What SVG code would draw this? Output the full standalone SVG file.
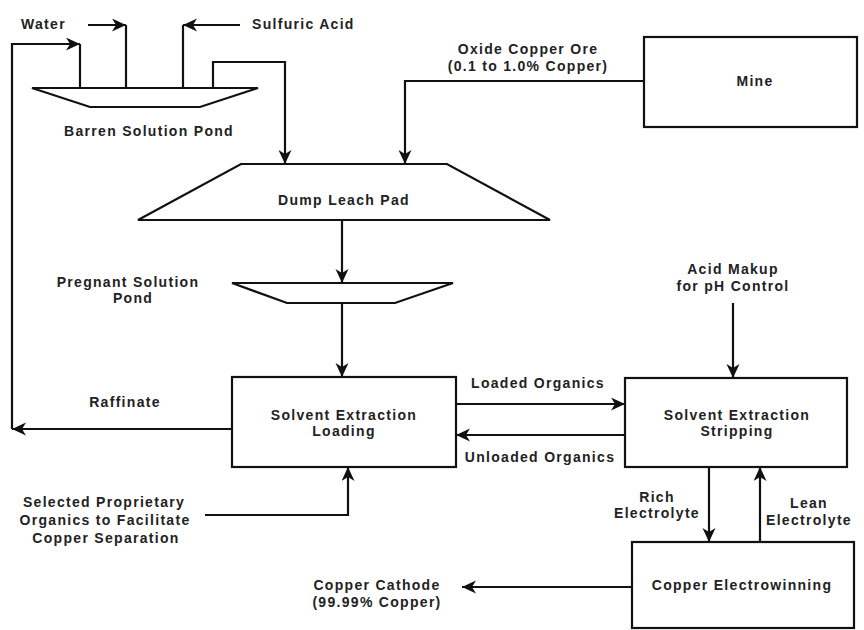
<svg xmlns="http://www.w3.org/2000/svg" width="864" height="630" viewBox="0 0 864 630">
<style>
.bg{fill:#ffffff}
.shape{fill:#ffffff;stroke:#111;stroke-width:2.2}
.conn{fill:none;stroke:#111;stroke-width:2.2}
.arr{fill:none;stroke:#111;stroke-width:2.2;marker-end:url(#ah)}
text{font-family:"Liberation Sans",Arial,Helvetica,sans-serif;font-weight:bold;font-size:14px;letter-spacing:1.3px;fill:#222}
.c{text-anchor:middle}
</style>
<defs>
<marker id="ah" markerUnits="userSpaceOnUse" markerWidth="16" markerHeight="14" refX="14" refY="6.5" orient="auto">
<path d="M0,0 L14,6.5 L0,13 L4,6.5 Z" fill="#111"/>
</marker>
</defs>
<rect class="bg" width="864" height="630"/>

<g id="connectors">
<path class="arr" d="M88,25 H126"/>
<path class="conn" d="M126,25 V88"/>
<path class="arr" d="M240,25 H183"/>
<path class="conn" d="M183,25 V88"/>
<path class="arr" d="M12,429 V44 H80"/>
<path class="conn" d="M80,44 V88"/>
<path class="arr" d="M213,88 V62 H285 V164"/>
<path class="arr" d="M644,81 H405 V164"/>
<path class="arr" d="M342,220 V283"/>
<path class="arr" d="M342,303 V377"/>
<path class="arr" d="M232,429 H12"/>
<path class="arr" d="M205,515 H348 V467"/>
<path class="arr" d="M456,404 H625"/>
<path class="arr" d="M625,435 H456"/>
<path class="arr" d="M733,303 V378"/>
<path class="arr" d="M709,467 V542"/>
<path class="arr" d="M760,542 V467"/>
<path class="arr" d="M632,587 H462"/>
</g>

<g id="labels">
<text x="21" y="29">Water</text>
<text x="252" y="29">Sulfuric Acid</text>
<text class="c" x="528" y="54">Oxide Copper Ore</text>
<text class="c" x="528" y="71">(0.1 to 1.0% Copper)</text>
<text class="c" x="128" y="287">Pregnant Solution</text>
<text class="c" x="133" y="303">Pond</text>
<text class="c" x="125" y="407">Raffinate</text>
<text class="c" x="733" y="274">Acid Makup</text>
<text class="c" x="733" y="291">for pH Control</text>
<text class="c" x="538" y="388">Loaded Organics</text>
<text class="c" x="540" y="462">Unloaded Organics</text>
<text class="c" x="657" y="502">Rich</text>
<text class="c" x="657" y="518">Electrolyte</text>
<text class="c" x="809" y="508">Lean</text>
<text class="c" x="809" y="525">Electrolyte</text>
<text class="c" x="104" y="507">Selected Proprietary</text>
<text class="c" x="105" y="525">Organics to Facilitate</text>
<text class="c" x="106" y="543">Copper Separation</text>
<text class="c" x="377" y="590">Copper Cathode</text>
<text class="c" x="377" y="607">(99.99% Copper)</text>
</g>

<g id="barren-pond">
<polygon class="shape" points="32,88 258,88 200,107 90,107"/>
<text class="c" x="149" y="136">Barren Solution Pond</text>
</g>

<g id="mine">
<rect class="shape" x="644" y="37" width="213" height="90"/>
<text class="c" x="755" y="86">Mine</text>
</g>

<g id="dump-leach-pad">
<polygon class="shape" points="241,164 447,164 550,220 138,220"/>
<text class="c" x="344" y="205">Dump Leach Pad</text>
</g>

<g id="pregnant-pond">
<polygon class="shape" points="232,283 453,283 395,303 287,303"/>
</g>

<g id="sx-loading">
<rect class="shape" x="232" y="377" width="224" height="90"/>
<text class="c" x="344" y="420">Solvent Extraction</text>
<text class="c" x="344" y="436">Loading</text>
</g>

<g id="sx-stripping">
<rect class="shape" x="625" y="378" width="222" height="89"/>
<text class="c" x="737" y="420">Solvent Extraction</text>
<text class="c" x="737" y="436">Stripping</text>
</g>

<g id="electrowinning">
<rect class="shape" x="632" y="542" width="222" height="86"/>
<text class="c" x="742" y="590">Copper Electrowinning</text>
</g>
</svg>
